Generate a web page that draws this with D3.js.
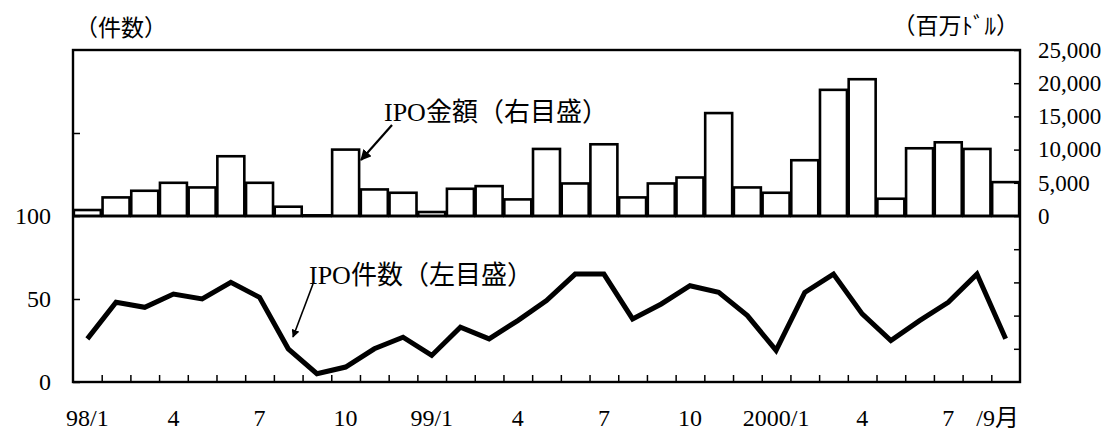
<!DOCTYPE html>
<html><head><meta charset="utf-8">
<script src="https://cdn.jsdelivr.net/npm/d3@7"></script>
<style>
html,body{margin:0;padding:0;background:#fff;}
svg{display:block;}
text{font-family:"Liberation Serif","Noto Sans CJK JP",serif;fill:#000;}
</style></head>
<body>
<svg id="chart" width="1107" height="434"></svg>
<script>
// ---- data ----
const months = ["1998-01","1998-02","1998-03","1998-04","1998-05","1998-06","1998-07","1998-08","1998-09","1998-10","1998-11","1998-12",
  "1999-01","1999-02","1999-03","1999-04","1999-05","1999-06","1999-07","1999-08","1999-09","1999-10","1999-11","1999-12",
  "2000-01","2000-02","2000-03","2000-04","2000-05","2000-06","2000-07","2000-08","2000-09"];
// IPO amount (million USD, right scale)
const ipoAmount = [900,2800,3800,5000,4300,9000,5000,1400,100,10000,4000,3500,600,4100,4500,2500,10100,
  4900,10800,2800,4900,5800,15500,4300,3500,8400,19000,20600,2600,10200,11100,10100,5100];
// IPO count (left scale)
const ipoCount = [26,48,45,53,50,60,51,20,5,9,20,27,16,33,26,37,49,
  65,65,38,47,58,54,40,19,54,65,41,25,37,48,65,26];
const tickMonths = ["1998-01","1998-04","1998-07","1998-10","1999-01","1999-04","1999-07","1999-10","2000-01","2000-04","2000-07","2000-09"];
const tickLabels = ["98/1","4","7","10","99/1","4","7","10","2000/1","4","7","/9月"];
const leftTicks = [0,50,100,150];
const leftLabels = [0,50,100];
const rightTicks = [-20000,-15000,-10000,-5000,0,5000,10000,15000,20000,25000];

// ---- layout ----
const L = 73, R = 1020, T = 50, B = 382;
const svg = d3.select("#chart");

const x = d3.scaleBand().domain(months).range([L, R]).paddingInner(0.06).paddingOuter(0.03);
const xi = d3.scaleLinear().domain([0, months.length]).range([L, R]);
const yL = d3.scaleLinear().domain([0, 200]).range([B, T]);
const yR = d3.scaleLinear().domain([-25000, 25000]).range([B, T]);
const mid = yR(0);

// bars
svg.append("g").selectAll("rect").data(ipoAmount).join("rect")
  .attr("x", (d,i) => x(months[i]))
  .attr("y", d => yR(d))
  .attr("width", x.bandwidth())
  .attr("height", d => mid - yR(d))
  .attr("fill", "#fff").attr("stroke", "#000").attr("stroke-width", 2.6);

// line
const line = d3.line().x((d,i) => x(months[i]) + x.bandwidth()/2).y(d => yL(d));
svg.append("path").datum(ipoCount).attr("d", line)
  .attr("fill", "none").attr("stroke", "#000").attr("stroke-width", 5).attr("stroke-linejoin", "miter");

// frame and divider
svg.append("rect").attr("x", L).attr("y", T).attr("width", R-L).attr("height", B-T)
  .attr("fill", "none").attr("stroke", "#000").attr("stroke-width", 2.4);
svg.append("line").attr("x1", L).attr("x2", R).attr("y1", mid).attr("y2", mid)
  .attr("stroke", "#000").attr("stroke-width", 2.4);

// left axis
const gL = svg.append("g").attr("transform", `translate(${L},0)`)
  .call(d3.axisLeft(yL).tickValues(leftTicks).tickSize(-7).tickPadding(22)
    .tickFormat(d => leftLabels.includes(d) ? d : ""));
gL.select(".domain").remove();
gL.selectAll("line").attr("stroke", "#000").attr("stroke-width", 1.5);
gL.selectAll("text").attr("font-size", 24);

// right axis
const gR = svg.append("g").attr("transform", `translate(${R},0)`)
  .call(d3.axisRight(yR).tickValues(rightTicks).tickSize(-6).tickPadding(18)
    .tickFormat(d => d >= 0 ? d3.format(",")(d) : ""));
gR.select(".domain").remove();
gR.selectAll("line").attr("stroke", "#000").attr("stroke-width", 1.5);
gR.selectAll("text").attr("font-size", 23);

// bottom tick marks (band boundaries)
const gB = svg.append("g").attr("transform", `translate(0,${B})`)
  .call(d3.axisBottom(xi).tickValues(d3.range(1, months.length)).tickSize(-7).tickFormat(""));
gB.select(".domain").remove();
gB.selectAll("line").attr("stroke", "#000").attr("stroke-width", 1.5);

// bottom labels
const gX = svg.append("g").attr("transform", `translate(0,${B})`)
  .call(d3.axisBottom(x).tickValues(tickMonths).tickSize(0).tickPadding(27)
    .tickFormat(d => tickLabels[tickMonths.indexOf(d)]));
gX.select(".domain").remove();
gX.selectAll("text").attr("font-size", 24)
  .attr("dx", d => d === "2000-09" ? -8 : 0);

// unit labels
svg.append("text").attr("x", 75).attr("y", 28).attr("font-size", 23)
  .attr("dominant-baseline", "central").text("（件数）");
svg.append("text").attr("x", 1019).attr("y", 26).attr("font-size", 23).attr("text-anchor", "end")
  .attr("dominant-baseline", "central").text("（百万ﾄﾞﾙ）");

// annotations
svg.append("defs").append("marker").attr("id", "ah").attr("viewBox", "0 0 10 10")
  .attr("refX", 9).attr("refY", 5).attr("markerWidth", 5).attr("markerHeight", 5)
  .attr("orient", "auto").attr("markerUnits", "strokeWidth")
  .append("path").attr("d", "M0,0L10,5L0,10z").attr("fill", "#000");

svg.append("text").attr("x", 384).attr("y", 112).attr("font-size", 26)
  .attr("dominant-baseline", "central").text("IPO金額（右目盛）");
svg.append("line").attr("x1", 392).attr("y1", 125).attr("x2", 361).attr("y2", 160)
  .attr("stroke", "#000").attr("stroke-width", 2.2).attr("marker-end", "url(#ah)");

svg.append("text").attr("x", 309).attr("y", 275).attr("font-size", 26)
  .attr("dominant-baseline", "central").text("IPO件数（左目盛）");
svg.append("line").attr("x1", 313).attr("y1", 284).attr("x2", 293).attr("y2", 337)
  .attr("stroke", "#000").attr("stroke-width", 1.6).attr("marker-end", "url(#ah)");
</script>
</body></html>
